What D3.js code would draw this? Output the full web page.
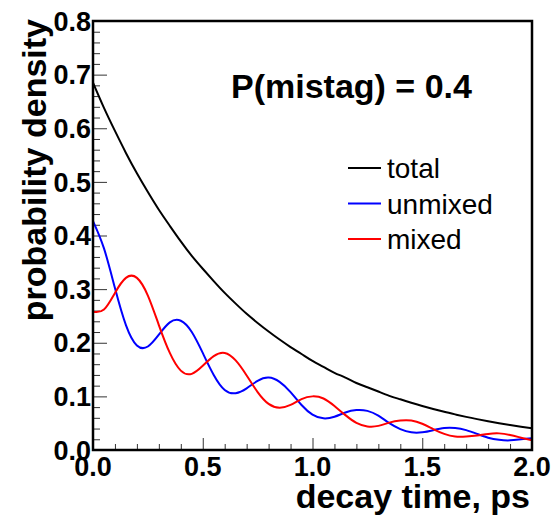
<!DOCTYPE html>
<html>
<head>
<meta charset="utf-8">
<script src="https://cdn.jsdelivr.net/npm/d3@7/dist/d3.min.js"></script>
<style>
  body { margin: 0; background: #fff; }
  text { font-family: "Liberation Sans", Arial, Helvetica, sans-serif; }
</style>
</head>
<body>
<div id="chart"></div>
<script>
// decay time samples (ps)
const time = [0.00, 0.05, 0.10, 0.15, 0.20, 0.25, 0.30, 0.35, 0.40, 0.45,
              0.50, 0.55, 0.60, 0.65, 0.70, 0.75, 0.80, 0.85, 0.90, 0.95,
              1.00, 1.05, 1.10, 1.15, 1.20, 1.25, 1.30, 1.35, 1.40, 1.45,
              1.50, 1.55, 1.60, 1.65, 1.70, 1.75, 1.80, 1.85, 1.90, 1.95, 2.00];
// probability density
const total = [0.685, 0.638, 0.595, 0.554, 0.516, 0.481, 0.448, 0.418, 0.389, 0.362,
               0.338, 0.315, 0.293, 0.273, 0.254, 0.237, 0.221, 0.206, 0.192, 0.179,
               0.166, 0.155, 0.144, 0.135, 0.125, 0.117, 0.109, 0.101, 0.0945, 0.0881,
               0.0821, 0.0765, 0.0712, 0.0664, 0.0618, 0.0576, 0.0537, 0.0500, 0.0466, 0.0434, 0.0404];
const unmixed = [0.427, 0.376, 0.302, 0.233, 0.195, 0.193, 0.215, 0.238, 0.241, 0.220,
                 0.181, 0.140, 0.112, 0.106, 0.115, 0.129, 0.135, 0.127, 0.108, 0.084,
                 0.066, 0.059, 0.062, 0.070, 0.0745, 0.073, 0.064, 0.050, 0.039, 0.033,
                 0.033, 0.037, 0.041, 0.041, 0.037, 0.030, 0.023, 0.019, 0.018, 0.020, 0.022];
const mixed = [0.258, 0.262, 0.293, 0.321, 0.321, 0.288, 0.233, 0.181, 0.148, 0.142,
               0.157, 0.175, 0.181, 0.167, 0.139, 0.108, 0.086, 0.079, 0.084, 0.095,
               0.100, 0.096, 0.082, 0.065, 0.0505, 0.044, 0.045, 0.051, 0.055, 0.055,
               0.049, 0.039, 0.030, 0.025, 0.025, 0.027, 0.030, 0.031, 0.028, 0.023, 0.018];

const xMajor = [0, 0.5, 1.0, 1.5, 2.0];
const xMinor = [0.1, 0.2, 0.3, 0.4, 0.6, 0.7, 0.8, 0.9, 1.1, 1.2, 1.3, 1.4, 1.6, 1.7, 1.8, 1.9];
const yMajor = [0, 0.1, 0.2, 0.3, 0.4, 0.5, 0.6, 0.7, 0.8];
const yMinor = [0.02, 0.04, 0.06, 0.08, 0.12, 0.14, 0.16, 0.18, 0.22, 0.24, 0.26, 0.28,
                0.32, 0.34, 0.36, 0.38, 0.42, 0.44, 0.46, 0.48, 0.52, 0.54, 0.56, 0.58,
                0.62, 0.64, 0.66, 0.68, 0.72, 0.74, 0.76, 0.78];
const seriesNames = ['total', 'unmixed', 'mixed'];
const seriesColors = ['#000000', '#0000ff', '#ff0000'];

const width = 556, height = 517;
const margin = { top: 21, right: 24, bottom: 67, left: 93 };
const plotW = width - margin.left - margin.right;
const plotH = height - margin.top - margin.bottom;

const svg = d3.select('#chart').append('svg')
  .attr('width', width).attr('height', height);

const x = d3.scaleLinear().domain([0, 2]).range([0, plotW]);
const y = d3.scaleLinear().domain([0, 0.8]).range([plotH, 0]);

const g = svg.append('g').attr('transform', `translate(${margin.left},${margin.top})`);

g.append('clipPath').attr('id', 'clip')
  .append('rect').attr('width', plotW).attr('height', plotH);

// ticks (inside, ROOT style)
const tickStyle = sel => {
  sel.select('.domain').remove();
  sel.selectAll('.tick line').attr('stroke', '#333').attr('stroke-width', 1);
};
g.append('g').attr('transform', `translate(0,${plotH})`)
  .call(d3.axisBottom(x).tickValues(xMinor).tickSize(-6).tickFormat(''))
  .call(tickStyle);
g.append('g').attr('transform', `translate(0,${plotH})`)
  .call(d3.axisBottom(x).tickValues(xMajor).tickSize(-12).tickFormat(''))
  .call(tickStyle);
g.append('g')
  .call(d3.axisLeft(y).tickValues(yMinor).tickSize(-7).tickFormat(''))
  .call(tickStyle);
g.append('g')
  .call(d3.axisLeft(y).tickValues(yMajor).tickSize(-14).tickFormat(''))
  .call(tickStyle);

// tick labels
g.selectAll('.xlab').data(xMajor).enter().append('text')
  .attr('class', 'xlab')
  .attr('x', d => x(d)).attr('y', plotH + 26)
  .attr('text-anchor', 'middle')
  .style('font-size', '27px').style('font-weight', 'bold')
  .text(d => d3.format('.1f')(d));
g.selectAll('.ylab').data(yMajor).enter().append('text')
  .attr('class', 'ylab')
  .attr('x', -2).attr('y', d => y(d))
  .attr('dy', '0.36em')
  .attr('text-anchor', 'end')
  .style('font-size', '27px').style('font-weight', 'bold')
  .text(d => d3.format('.1f')(d));

// curves
const series = [total, unmixed, mixed];
const line = d3.line()
  .x((d, i) => x(time[i]))
  .y(d => y(d))
  .curve(d3.curveNatural);
g.append('g').attr('clip-path', 'url(#clip)')
  .selectAll('path').data(series).enter().append('path')
  .attr('d', line)
  .attr('fill', 'none')
  .attr('stroke', (d, i) => seriesColors[i])
  .attr('stroke-width', 2);

// frame
g.append('rect')
  .attr('width', plotW).attr('height', plotH)
  .attr('fill', 'none').attr('stroke', '#000').attr('stroke-width', 2.5);

// axis titles
svg.append('text')
  .attr('x', margin.left + plotW - 2).attr('y', 508)
  .attr('text-anchor', 'end')
  .style('font-size', '34px').style('font-weight', 'bold')
  .text('decay time, ps');
svg.append('text')
  .attr('transform', 'translate(46,19) rotate(-90)')
  .attr('text-anchor', 'end')
  .style('font-size', '34px').style('font-weight', 'bold')
  .text('probability density');

// annotation
svg.append('text')
  .attr('x', 231).attr('y', 98)
  .style('font-size', '34px').style('font-weight', 'bold')
  .text('P(mistag) = 0.4');

// legend
const legend = svg.append('g').attr('transform', 'translate(348,168)');
seriesNames.forEach((name, i) => {
  const row = legend.append('g').attr('transform', `translate(0,${i * 35.5})`);
  row.append('line').attr('x1', 0).attr('x2', 33).attr('y1', 0).attr('y2', 0)
    .attr('stroke', seriesColors[i]).attr('stroke-width', 2);
  row.append('text').attr('x', 39).attr('y', 10)
    .style('font-size', '28px')
    .text(name);
});
</script>
</body>
</html>
